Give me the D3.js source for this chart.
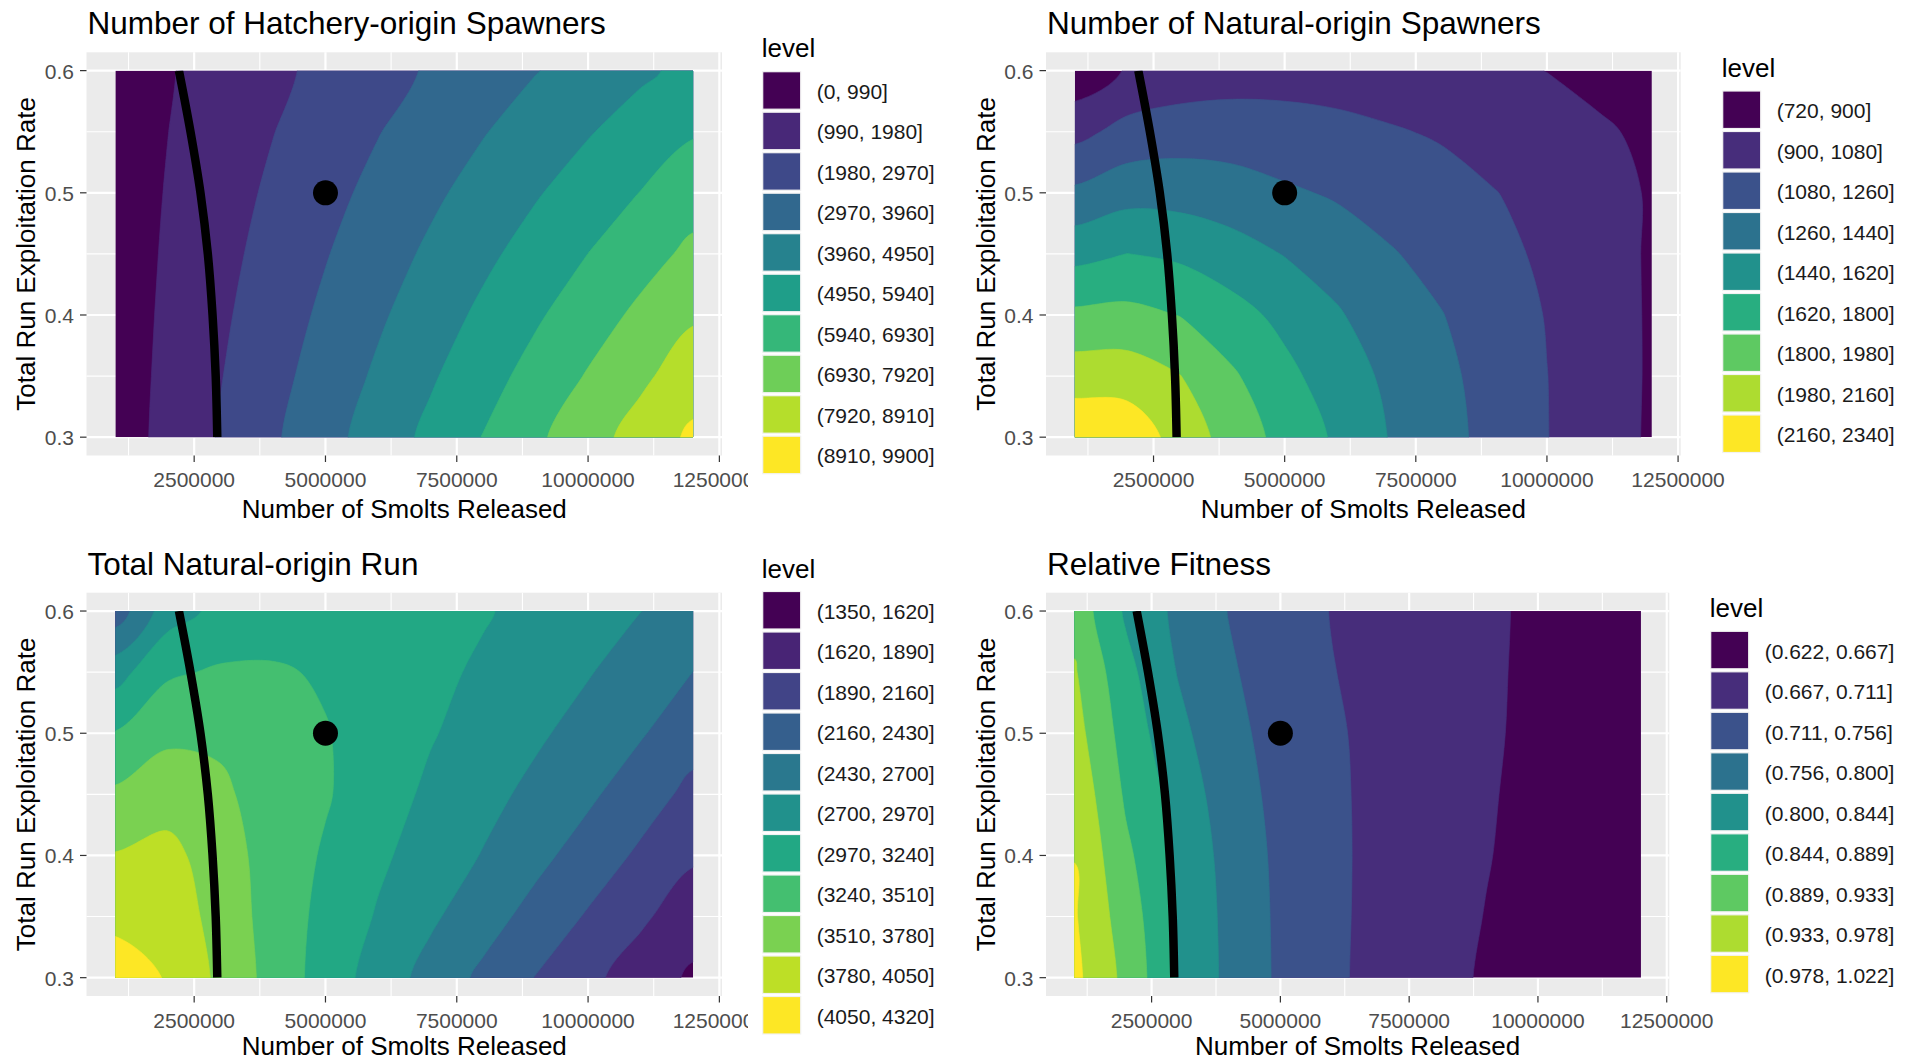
<!DOCTYPE html>
<html><head><meta charset="utf-8">
<script src="https://cdn.jsdelivr.net/npm/d3@7"></script>
<style>
body{margin:0;background:#fff;}
svg text{font-family:"Liberation Sans", Arial, sans-serif;}
</style></head><body>
<svg id="chart" width="1917" height="1063"></svg>
<script>
// ---------------- DATA ----------------
const smolts = [1e6, 2e6, 3e6, 4e6, 5e6, 6e6, 7e6, 8e6, 9e6, 10e6, 11e6, 12e6];
const exploitRates = [0.30, 0.35, 0.40, 0.45, 0.50, 0.55, 0.60];

// rows follow exploitRates (0.30 first), columns follow smolts
const hatcherySpawners = [
  [495, 1277, 2059, 2841, 3623, 4406, 5188, 5970, 6752, 7534, 8316, 9098],
  [495, 1218, 1941, 2665, 3388, 4111, 4834, 5557, 6281, 7004, 7727, 8450],
  [495, 1159, 1824, 2488, 3152, 3817, 4481, 5145, 5809, 6474, 7138, 7802],
  [495, 1100, 1706, 2311, 2917, 3522, 4127, 4733, 5338, 5944, 6549, 7154],
  [495, 1042, 1588, 2135, 2681, 3228, 3774, 4321, 4867, 5414, 5960, 6507],
  [495, 983, 1470, 1958, 2445, 2933, 3421, 3908, 4396, 4883, 5371, 5859],
  [495, 924, 1352, 1781, 2210, 2639, 3067, 3496, 3925, 4353, 4782, 5211]
];
const naturalSpawners = [
  [2308, 2284, 2088, 1904, 1741, 1593, 1433, 1321, 1201, 1084, 981, 878],
  [2075, 2074, 1985, 1823, 1669, 1526, 1406, 1303, 1188, 1082, 979, 882],
  [1836, 1849, 1795, 1687, 1571, 1458, 1339, 1265, 1161, 1073, 976, 882],
  [1564, 1622, 1586, 1512, 1433, 1355, 1274, 1202, 1125, 1051, 967, 882],
  [1294, 1373, 1370, 1339, 1285, 1240, 1186, 1134, 1085, 1024, 956, 886],
  [1024, 1139, 1174, 1172, 1148, 1123, 1093, 1064, 1012, 965, 918, 873],
  [774, 914, 967, 999, 1012, 1008, 994, 972, 936, 898, 860, 819]
];
const totalNaturalRun = [
  [4212, 4028, 3721, 3413, 3124, 2851, 2603, 2373, 2152, 1952, 1763, 1577],
  [3972, 3926, 3688, 3391, 3167, 2946, 2743, 2541, 2338, 2133, 1933, 1744],
  [3794, 3861, 3634, 3397, 3210, 3019, 2849, 2687, 2503, 2314, 2114, 1925],
  [3556, 3659, 3551, 3405, 3264, 3089, 2921, 2781, 2633, 2476, 2284, 2087],
  [3254, 3456, 3470, 3375, 3254, 3124, 2989, 2865, 2741, 2603, 2452, 2268],
  [2862, 3202, 3272, 3272, 3210, 3121, 3029, 2932, 2824, 2716, 2576, 2428],
  [2268, 2851, 3038, 3092, 3105, 3092, 3051, 2992, 2897, 2800, 2703, 2606]
];
const relativeFitness = [
  [0.9886, 0.9215, 0.8415, 0.7895, 0.7478, 0.7180, 0.6971, 0.6789, 0.6620, 0.6487, 0.6398, 0.6309],
  [0.9820, 0.9109, 0.8429, 0.7873, 0.7473, 0.7184, 0.6984, 0.6820, 0.6651, 0.6513, 0.6411, 0.6318],
  [0.9770, 0.8975, 0.8389, 0.7833, 0.7460, 0.7184, 0.6993, 0.6838, 0.6682, 0.6536, 0.6429, 0.6331],
  [0.9664, 0.8824, 0.8278, 0.7762, 0.7429, 0.7175, 0.6998, 0.6851, 0.6700, 0.6553, 0.6442, 0.6340],
  [0.9504, 0.8704, 0.8122, 0.7678, 0.7393, 0.7158, 0.6998, 0.6856, 0.6718, 0.6571, 0.6451, 0.6344],
  [0.9375, 0.8575, 0.7984, 0.7602, 0.7353, 0.7122, 0.6984, 0.6856, 0.6722, 0.6584, 0.6464, 0.6353],
  [0.9175, 0.8380, 0.7904, 0.7540, 0.7313, 0.7095, 0.6971, 0.6847, 0.6727, 0.6593, 0.6464, 0.6353]
];

const hatcheryBreaks = [0, 990, 1980, 2970, 3960, 4950, 5940, 6930, 7920, 8910, 9900];
const naturalBreaks = [720, 900, 1080, 1260, 1440, 1620, 1800, 1980, 2160, 2340];
const runBreaks = [1350, 1620, 1890, 2160, 2430, 2700, 2970, 3240, 3510, 3780, 4050, 4320];
const fitnessBreaks = [0.622, 0.6664, 0.7109, 0.7553, 0.7998, 0.8442, 0.8887, 0.9331, 0.9776, 1.022];

const hatcheryLabels = ["(0, 990]","(990, 1980]","(1980, 2970]","(2970, 3960]","(3960, 4950]","(4950, 5940]","(5940, 6930]","(6930, 7920]","(7920, 8910]","(8910, 9900]"];
const naturalLabels = ["(720, 900]","(900, 1080]","(1080, 1260]","(1260, 1440]","(1440, 1620]","(1620, 1800]","(1800, 1980]","(1980, 2160]","(2160, 2340]"];
const runLabels = ["(1350, 1620]","(1620, 1890]","(1890, 2160]","(2160, 2430]","(2430, 2700]","(2700, 2970]","(2970, 3240]","(3240, 3510]","(3510, 3780]","(3780, 4050]","(4050, 4320]"];
const fitnessLabels = ["(0.622, 0.667]","(0.667, 0.711]","(0.711, 0.756]","(0.756, 0.800]","(0.800, 0.844]","(0.844, 0.889]","(0.889, 0.933]","(0.933, 0.978]","(0.978, 1.022]"];

// black reference curve (smolts, exploitation rate)
const curveSmolts = [2.21e6, 2.43e6, 2.62e6, 2.76e6, 2.85e6, 2.91e6, 2.94e6];
const curveRates = [0.60, 0.55, 0.50, 0.45, 0.40, 0.35, 0.30];
// current operating point
const pointSmolts = [5e6];
const pointRates = [0.5];

const xTickValues = [2500000, 5000000, 7500000, 10000000, 12500000];
const xMinorValues = [1250000, 3750000, 6250000, 8750000, 11250000];
const yTickValues = [0.3, 0.4, 0.5, 0.6];
const yMinorValues = [0.35, 0.45, 0.55];

const titles = ["Number of Hatchery-origin Spawners", "Number of Natural-origin Spawners", "Total Natural-origin Run", "Relative Fitness"];

// ---------------- LAYOUT ----------------
const panels = [
  {title: titles[0], grid: hatcherySpawners, breaks: hatcheryBreaks, labels: hatcheryLabels,
   left: 86.5, right: 722, top: 52.3, bottom: 455.5, legX: 762.7, legTitleY: 57.3, legTop: 71.7, clipRight: 748},
  {title: titles[1], grid: naturalSpawners, breaks: naturalBreaks, labels: naturalLabels,
   left: 1046, right: 1680.7, top: 52.3, bottom: 455.5, legX: 1722.7, legTitleY: 76.7, legTop: 91, clipRight: 1917},
  {title: titles[2], grid: totalNaturalRun, breaks: runBreaks, labels: runLabels,
   left: 86.5, right: 722, top: 592.7, bottom: 996, legX: 762.7, legTitleY: 577.6, legTop: 591.5, clipRight: 748},
  {title: titles[3], grid: relativeFitness, breaks: fitnessBreaks, labels: fitnessLabels,
   left: 1046, right: 1669.3, top: 592.7, bottom: 996, legX: 1710.7, legTitleY: 616.7, legTop: 631.3, clipRight: 1917}
];

const svg = d3.select('#chart');
const defs = svg.append('defs');
const fmtX = d3.format('d');
const fmtY = d3.format('.1f');

panels.forEach((p, pi) => {
  const g = svg.append('g');
  const x = d3.scaleLinear().domain([450000, 12550000]).range([p.left, p.right]);
  const y = d3.scaleLinear().domain([0.285, 0.615]).range([p.bottom, p.top]);
  const nBands = p.breaks.length - 1;
  const colors = d3.range(nBands).map(i => d3.interpolateViridis(i / (nBands - 1)));

  // panel background
  g.append('rect').attr('x', p.left).attr('y', p.top)
    .attr('width', p.right - p.left).attr('height', p.bottom - p.top).attr('fill', '#EBEBEB');
  // grid lines
  xMinorValues.forEach(v => g.append('line').attr('x1', x(v)).attr('x2', x(v)).attr('y1', p.top).attr('y2', p.bottom)
    .attr('stroke', '#fff').attr('stroke-width', 1.1));
  yMinorValues.forEach(v => g.append('line').attr('y1', y(v)).attr('y2', y(v)).attr('x1', p.left).attr('x2', p.right)
    .attr('stroke', '#fff').attr('stroke-width', 1.1));
  xTickValues.forEach(v => g.append('line').attr('x1', x(v)).attr('x2', x(v)).attr('y1', p.top).attr('y2', p.bottom)
    .attr('stroke', '#fff').attr('stroke-width', 2.2));
  yTickValues.forEach(v => g.append('line').attr('y1', y(v)).attr('y2', y(v)).attr('x1', p.left).attr('x2', p.right)
    .attr('stroke', '#fff').attr('stroke-width', 2.2));

  // data area clip
  const x0 = x(smolts[0]), x1 = x(smolts[smolts.length - 1]);
  const yTop = y(exploitRates[exploitRates.length - 1]), yBot = y(exploitRates[0]);
  const cid = 'clip' + pi;
  defs.append('clipPath').attr('id', cid).append('rect')
    .attr('x', x0).attr('y', yTop).attr('width', x1 - x0).attr('height', yBot - yTop);

  // contour grid (edge-padded so contours reach the data rectangle cleanly)
  const nx = smolts.length, ny = exploitRates.length;
  const values = [];
  for (let j = -1; j <= ny; j++) {
    const jj = Math.max(0, Math.min(ny - 1, j));
    for (let i = -1; i <= nx; i++) {
      const ii = Math.max(0, Math.min(nx - 1, i));
      values.push(p.grid[jj][ii]);
    }
  }
  const gx = d3.scaleLinear().domain([1.5, nx + 0.5]).range([smolts[0], smolts[nx - 1]]);
  const gy = d3.scaleLinear().domain([1.5, ny + 0.5]).range([exploitRates[0], exploitRates[ny - 1]]);
  const contours = d3.contours().size([nx + 2, ny + 2]).thresholds(p.breaks.slice(1, -1))(values);
  const ringLine = d3.line().curve(d3.curveCatmullRomClosed.alpha(0.5));
  const cg = g.append('g').attr('clip-path', `url(#${cid})`);
  cg.append('rect').attr('x', x0).attr('y', yTop).attr('width', x1 - x0).attr('height', yBot - yTop).attr('fill', colors[0]);
  contours.forEach((c, k) => {
    let d = '';
    c.coordinates.forEach(poly => poly.forEach(ring => {
      const pts = ring.slice(0, -1).map(pt => [x(gx(pt[0])), y(gy(pt[1]))])
        .filter((pt, i, arr) => i === 0 || Math.hypot(pt[0] - arr[i - 1][0], pt[1] - arr[i - 1][1]) > 0.01);
      if (pts.length > 2) d += ringLine(pts);
    }));
    cg.append('path').attr('d', d).attr('fill-rule', 'evenodd').attr('fill', colors[k + 1])
      .attr('stroke', colors[k + 1]).attr('stroke-width', 0.6);
  });

  // black reference curve
  const line = d3.line().x((d, i) => x(curveSmolts[i])).y((d, i) => y(curveRates[i])).curve(d3.curveCatmullRom);
  cg.append('path').attr('d', line(curveSmolts)).attr('fill', 'none').attr('stroke', '#000').attr('stroke-width', 8.5);
  // point
  pointSmolts.forEach((s, i) => g.append('circle').attr('cx', x(s)).attr('cy', y(pointRates[i])).attr('r', 12.5).attr('fill', '#000'));

  // axes
  yTickValues.forEach(v => {
    g.append('line').attr('x1', p.left - 6.5).attr('x2', p.left).attr('y1', y(v)).attr('y2', y(v)).attr('stroke', '#333').attr('stroke-width', 1.2);
    g.append('text').attr('x', p.left - 12.5).attr('y', y(v) + 8).attr('text-anchor', 'end')
      .attr('font-size', 21).attr('fill', '#4D4D4D').text(fmtY(v));
  });
  const xcid = 'xclip' + pi;
  defs.append('clipPath').attr('id', xcid).append('rect').attr('x', 0).attr('y', 0).attr('width', p.clipRight).attr('height', 1063);
  const xa = g.append('g').attr('clip-path', `url(#${xcid})`);
  xTickValues.forEach(v => {
    xa.append('line').attr('x1', x(v)).attr('x2', x(v)).attr('y1', p.bottom).attr('y2', p.bottom + 6.5).attr('stroke', '#333').attr('stroke-width', 1.2);
    xa.append('text').attr('x', x(v)).attr('y', p.bottom + 31.8).attr('text-anchor', 'middle')
      .attr('font-size', 21).attr('fill', '#4D4D4D').text(fmtX(v));
  });
  // axis titles
  g.append('text').attr('x', (p.left + p.right) / 2).attr('y', Math.min(p.bottom + 62, 1055)).attr('text-anchor', 'middle')
    .attr('font-size', 26).attr('fill', '#000').text('Number of Smolts Released');
  g.append('text').attr('transform', `translate(${p.left - 51.5},${(p.top + p.bottom) / 2}) rotate(-90)`)
    .attr('text-anchor', 'middle').attr('font-size', 26).attr('fill', '#000').text('Total Run Exploitation Rate');
  // title
  g.append('text').attr('x', p.left + 1).attr('y', p.top - 18).attr('font-size', 31.5).attr('fill', '#000').text(p.title);

  // legend
  const lg = g.append('g');
  lg.append('text').attr('x', p.legX - 1).attr('y', p.legTitleY).attr('font-size', 26).attr('fill', '#000').text('level');
  p.labels.forEach((lab, i) => {
    const ty = p.legTop + i * 40.5;
    lg.append('rect').attr('x', p.legX).attr('y', ty).attr('width', 38).attr('height', 37.5)
      .attr('fill', colors[i]).attr('stroke', '#F2F2F2').attr('stroke-width', 1.2);
    lg.append('text').attr('x', p.legX + 54).attr('y', ty + 18.75 + 8.5).attr('font-size', 21).attr('fill', '#1A1A1A').text(lab);
  });
});
</script>
</body></html>
